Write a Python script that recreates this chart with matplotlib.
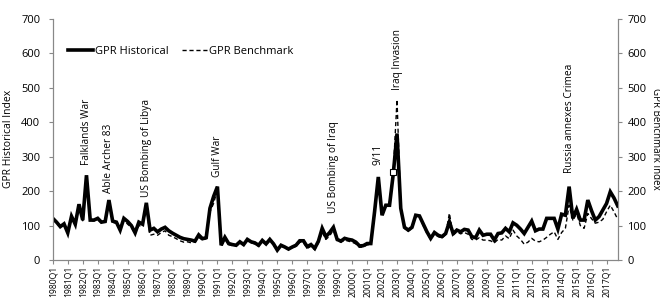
import numpy as np
import matplotlib
matplotlib.use("Agg")
import matplotlib.pyplot as plt

plt.rcParams['font.family'] = ['Open Sans', 'DejaVu Sans']

# quarterly GPR index, 1980Q1 .. 2017Q4
gpr_historical = [
    121, 110, 97, 105, 79, 127, 104, 162, 116, 246,
    116, 116, 121, 110, 112, 174, 113, 110, 87, 121,
    112, 100, 79, 110, 104, 166, 87, 92, 82, 90,
    95, 85, 78, 72, 66, 62, 60, 58, 55, 73,
    62, 65, 150, 185, 213, 43, 66, 48, 45, 43,
    53, 45, 60, 53, 50, 43, 57, 47, 60, 47,
    29, 43, 38, 32, 38, 43, 56, 56, 39, 45,
    34, 55, 92, 68, 80, 95, 60, 55, 63, 60,
    58, 52, 41, 42, 48, 48, 140, 241, 130, 159,
    159, 250, 367, 150, 95, 87, 95, 130, 128, 105,
    82, 63, 80, 72, 68, 77, 111, 77, 87, 82,
    89, 87, 68, 65, 87, 72, 75, 75, 58, 77,
    79, 92, 82, 108, 101, 90, 77, 95, 113, 85,
    90, 90, 121, 121, 121, 90, 133, 130, 213, 121,
    147, 116, 116, 174, 143, 116, 126, 145, 164, 198,
    180, 157,
]
gpr_benchmark = [
    118, 108, 95, 102, 78, 124, 102, 158, 114, 240,
    114, 114, 118, 108, 110, 168, 110, 106, 85, 117,
    104, 95, 76, 100, 98, 155, 72, 75, 72, 80,
    85, 72, 68, 62, 56, 52, 53, 50, 52, 66,
    58, 62, 140, 165, 205, 40, 62, 45, 42, 41,
    50, 43, 56, 50, 47, 40, 54, 45, 56, 44,
    27, 41, 36, 30, 36, 40, 52, 50, 34, 40,
    30, 50, 80, 60, 70, 88, 56, 52, 58, 55,
    52, 47, 37, 38, 44, 45, 130, 235, 128, 155,
    170, 256, 465, 150, 92, 84, 92, 125, 126, 100,
    78, 60, 76, 68, 64, 74, 136, 72, 82, 76,
    80, 75, 60, 58, 65, 58, 58, 56, 50, 60,
    58, 70, 62, 87, 70, 60, 46, 52, 63, 55,
    53, 58, 66, 75, 82, 60, 80, 92, 159, 116,
    135, 100, 92, 135, 120, 107, 110, 118, 140, 159,
    140, 118,
]
years = list(range(1980, 2018))
tick_labels = [f"{y}Q1" for y in years]

# event annotations: (label, quarter index, bottom of text in index units)
events = [
    ("Falklands War", 9, 275),
    ("Able Archer 83", 15, 194),
    ("US Bombing of Libya", 25, 183),
    ("Gulf War", 44, 240),
    ("US Bombing of Iraq", 75, 136),
    ("9/11", 87, 275),
    ("Iraq Invasion", 92, 493),
    ("Russia annexes Crimea", 138, 252),
]
marker_idx = [91]

q = np.arange(len(gpr_historical))

fig = plt.figure(figsize=(6.6, 3.0), dpi=100)
ax = fig.add_axes([0.080, 0.133, 0.856, 0.805])
ax2 = ax.twinx()

h1, = ax.plot(q, gpr_historical, color='black', lw=2.6, solid_joinstyle='miter',
              zorder=3)
h2, = ax2.plot(q, gpr_benchmark, color='black', lw=1.0, ls=(0, (3, 2)), zorder=2)
# small open square sitting on the benchmark line
ax2.plot(q[marker_idx], [gpr_benchmark[i] for i in marker_idx], ls='none',
         marker='s', markersize=4.5, markerfacecolor='white',
         markeredgecolor='black', markeredgewidth=0.8, zorder=4)

for a in (ax, ax2):
    a.set_ylim(0, 700)
    a.set_xlim(0, len(q) - 1)
    a.set_yticks(range(0, 701, 100))
    for s in a.spines.values():
        s.set_color('#888888')
        s.set_linewidth(0.8)
    a.spines['top'].set_visible(False)
    a.tick_params(axis='y', labelsize=8, length=3, color='#888888', pad=6)
ax2.tick_params(axis='y', pad=4)

ax.set_xticks(q[::4])
ax.set_xticklabels(tick_labels, rotation=90, fontsize=6.2)
ax.tick_params(axis='x', length=3, color='#888888', pad=1)

ax.set_ylabel('GPR Historical Index', fontsize=7.5, labelpad=5)
ax2.set_ylabel('GPR Benchmark Index', fontsize=7, rotation=270,
               va='center', ha='center')
ax2.yaxis.set_label_coords(1.066, 0.5)

for label, xi, yb in events:
    ax.text(xi, yb, label, rotation=90, ha='center', va='bottom', fontsize=7.3)

ax.legend([h1, h2], ['GPR Historical', 'GPR Benchmark'], loc='upper left',
          bbox_to_anchor=(0.01, 0.93), ncol=2, frameon=False, fontsize=8,
          handlelength=2.2, handletextpad=0.2, columnspacing=1.2)

fig.savefig('out.png', dpi=100)
